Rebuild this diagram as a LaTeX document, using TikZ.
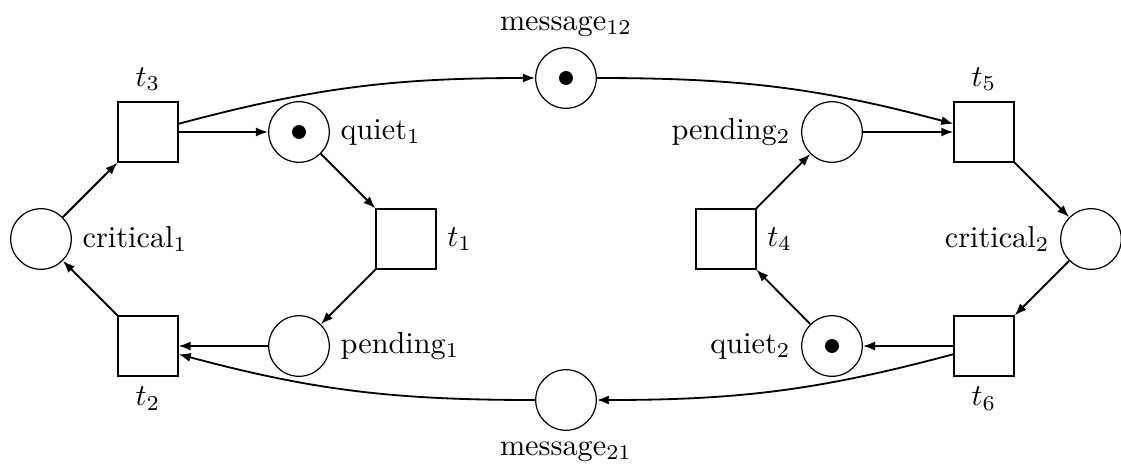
\documentclass[tikz,border=0pt]{standalone}
\usetikzlibrary{arrows.meta}
\begin{document}
\begin{tikzpicture}[x=0.33pt,y=-0.33pt,
  place/.style={circle,draw,thin,minimum size=20pt,inner sep=0pt},
  transition/.style={rectangle,draw,thin,minimum size=19.8pt,inner sep=0pt},
  token/.style={circle,fill=black,minimum size=4.6pt,inner sep=0pt},
  arc/.style={semithick,-{Latex[length=4pt,width=3pt]}}]
\useasboundingbox (0,0) rectangle (1121,464);

% left process
\node[place,label=right:critical$_1$] (c1) at (41,239) {};
\node[transition,label=above:$t_3$] (t3) at (148,132) {};
\node[place,label=right:quiet$_1$] (q1) at (299,132) {};
\node[token] at (q1) {};
\node[transition,label=right:$t_1$] (t1) at (406,239) {};
\node[place,label=right:pending$_1$] (p1) at (299,346) {};
\node[transition,label=below:$t_2$] (t2) at (148,346) {};

% message channels
\node[place,label=above:message$_{12}$] (m12) at (566,78) {};
\node[token] at (m12) {};
\node[place,label=below:message$_{21}$] (m21) at (566,400) {};

% right process
\node[place,label=left:pending$_2$] (p2) at (832,132) {};
\node[transition,label=above:$t_5$] (t5) at (984,132) {};
\node[place,label=left:critical$_2$] (c2) at (1091,239) {};
\node[transition,label=below:$t_6$] (t6) at (984,346) {};
\node[place,label=left:quiet$_2$] (q2) at (832,346) {};
\node[token] at (q2) {};
\node[transition,label=right:$t_4$] (t4) at (726,239) {};

% arcs of the left process
\draw[arc] (c1) -- (t3);
\draw[arc] (t3) -- (q1);
\draw[arc] (q1) -- (t1);
\draw[arc] (t1) -- (p1);
\draw[arc] (p1) -- (t2);
\draw[arc] (t2) -- (c1);

% arcs of the right process
\draw[arc] (t4) -- (p2);
\draw[arc] (p2) -- (t5);
\draw[arc] (t5) -- (c2);
\draw[arc] (c2) -- (t6);
\draw[arc] (t6) -- (q2);
\draw[arc] (q2) -- (t4);

% message exchange
\draw[arc] (t3) to[out=15,in=180] (m12);
\draw[arc] (m12) to[out=0,in=165] (t5);
\draw[arc] (t6) to[out=195,in=0] (m21);
\draw[arc] (m21) to[out=180,in=-15] (t2);
\end{tikzpicture}
\end{document}
